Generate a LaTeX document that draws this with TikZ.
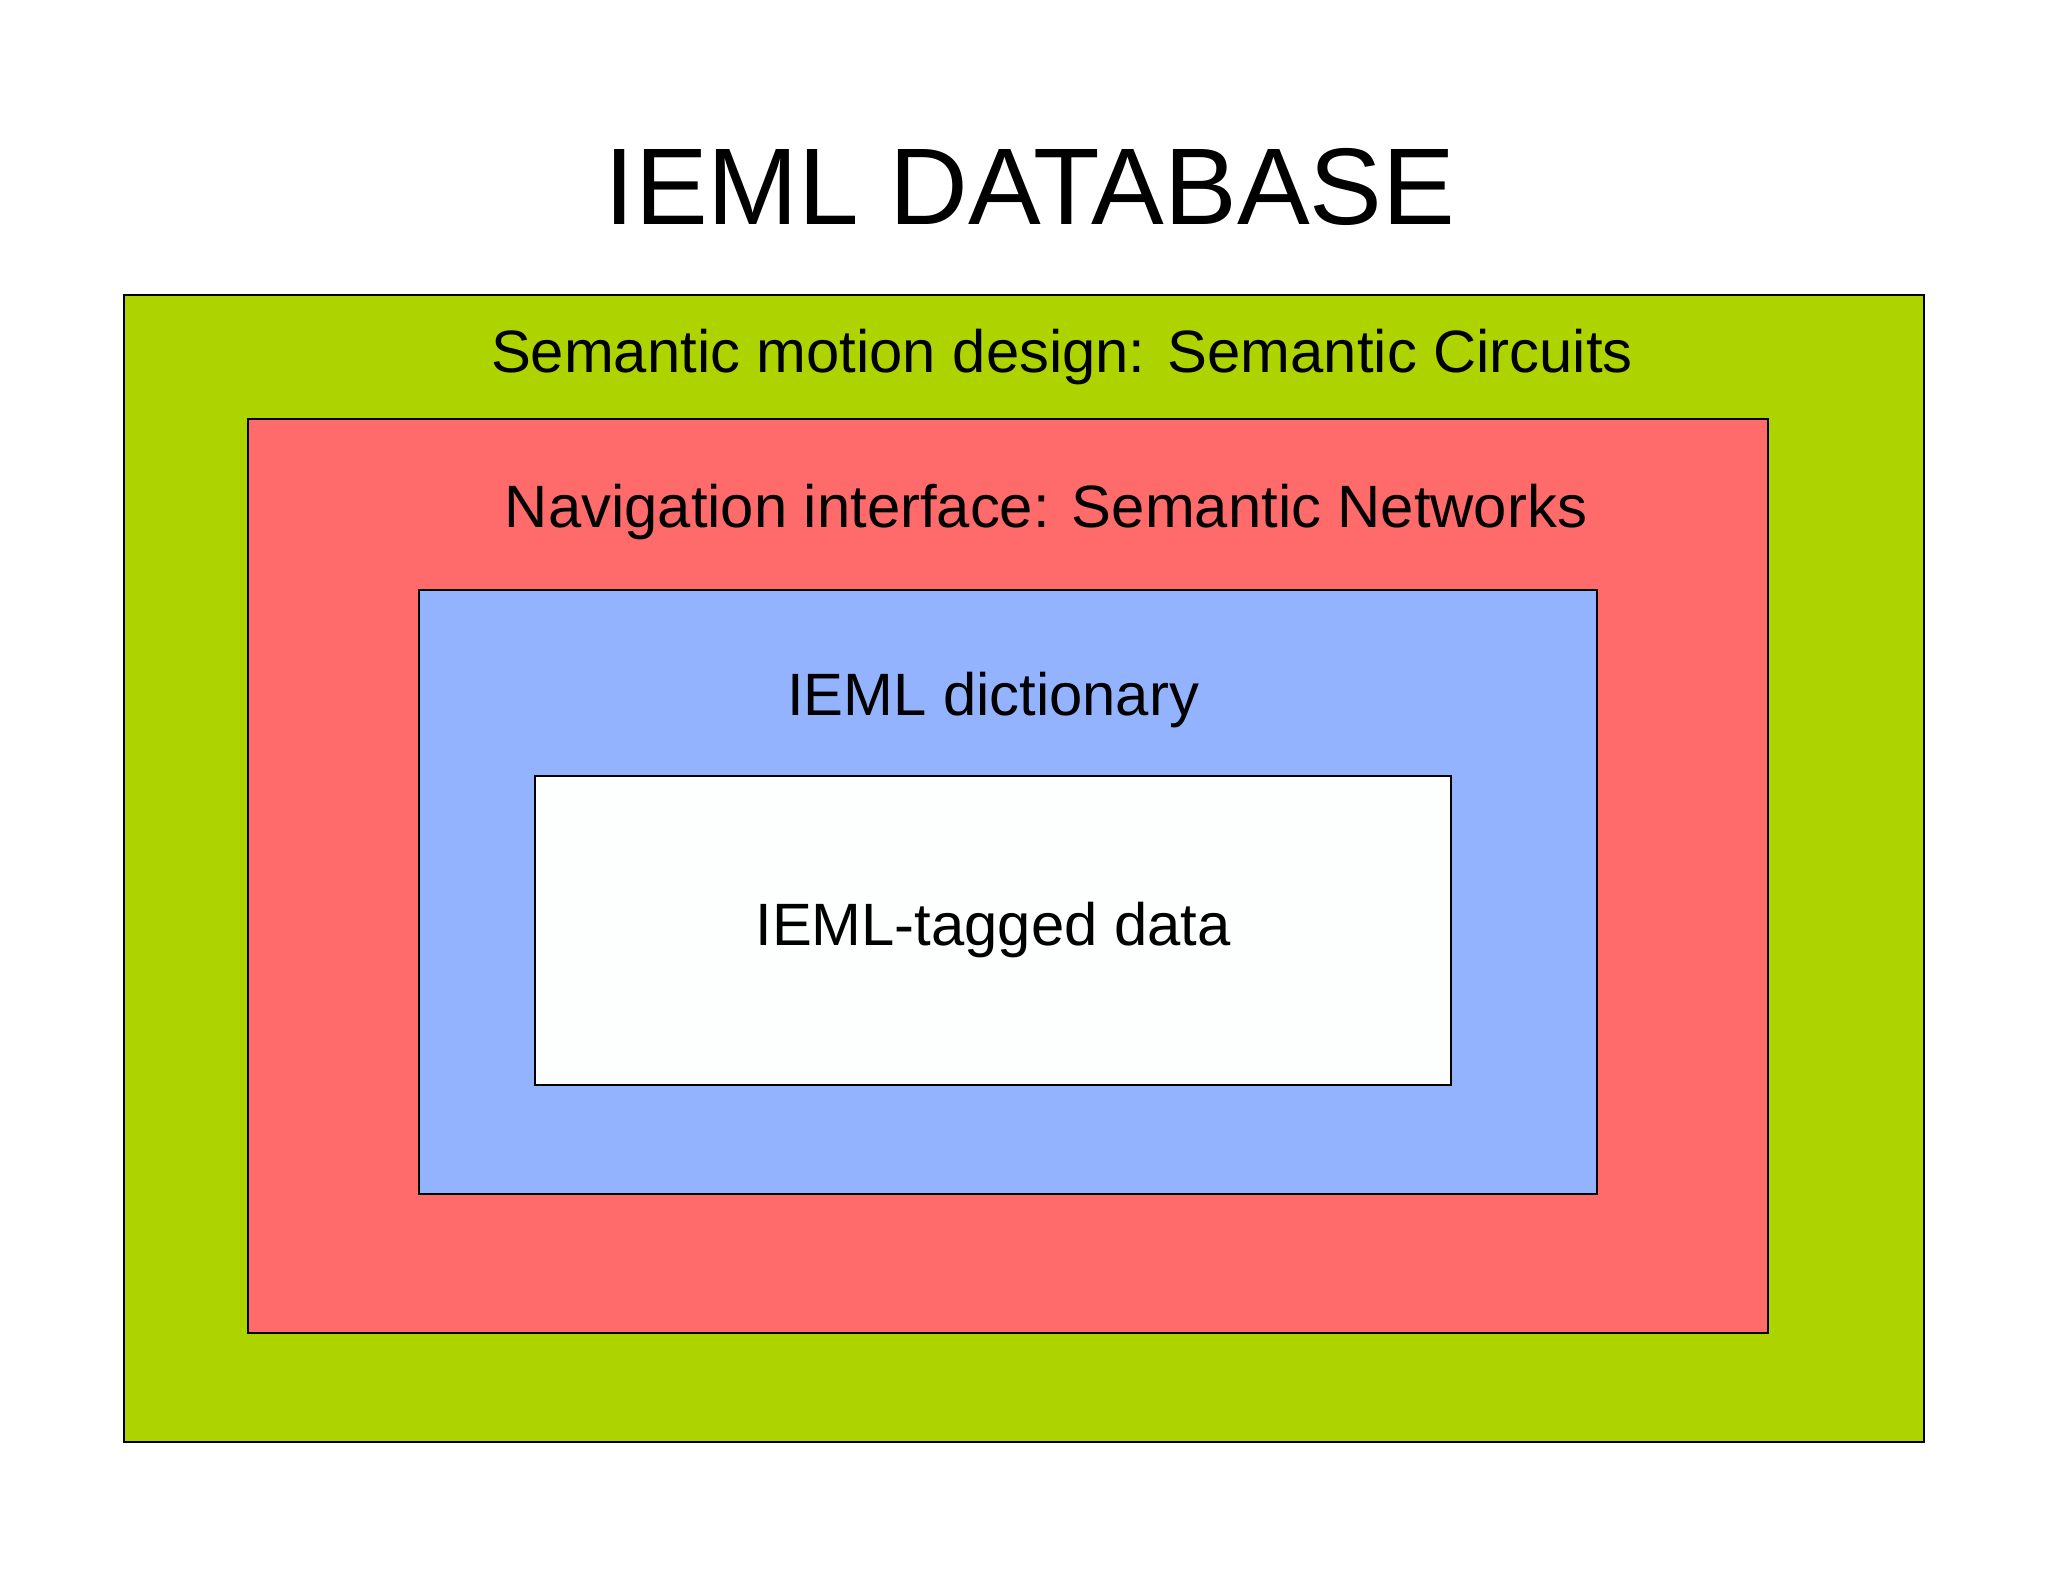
\documentclass[tikz,border=0pt]{standalone}
\usepackage{fontspec}
\setmainfont{Liberation Sans}
\definecolor{layergreen}{HTML}{AED400}
\definecolor{layerred}{HTML}{FF6A6A}
\definecolor{layerblue}{HTML}{94B3FF}
\definecolor{layerwhite}{HTML}{FDFEFE}
\begin{document}
\begin{tikzpicture}[x=0.01cm,y=-0.01cm]
    \tikzstyle{layer}=[draw=black,line width=0.6pt]
    \tikzstyle{label}=[font=\fontsize{17}{20}\selectfont,text=black]

    \useasboundingbox (0,0) rectangle (2048,1582);
    \fill[white] (0,0) rectangle (2048,1582);

    \node[font=\fontsize{31}{36}\selectfont] (title) at (1030,187) {IEML DATABASE};

    \draw[layer,fill=layergreen] (124,295) rectangle (1924,1442);
    \draw[layer,fill=layerred] (248,419) rectangle (1768,1333);
    \draw[layer,fill=layerblue] (419,590) rectangle (1597,1194);
    \draw[layer,fill=layerwhite] (535,776) rectangle (1451,1085);

    \node[label] (circuits) at (1062,357) {Semantic motion design: Semantic Circuits};
    \node[label] (networks) at (1046,512) {Navigation interface: Semantic Networks};
    \node[label] (dictionary) at (993,700) {IEML dictionary};
    \node[label] (data) at (993,930) {IEML-tagged data};
\end{tikzpicture}
\end{document}
